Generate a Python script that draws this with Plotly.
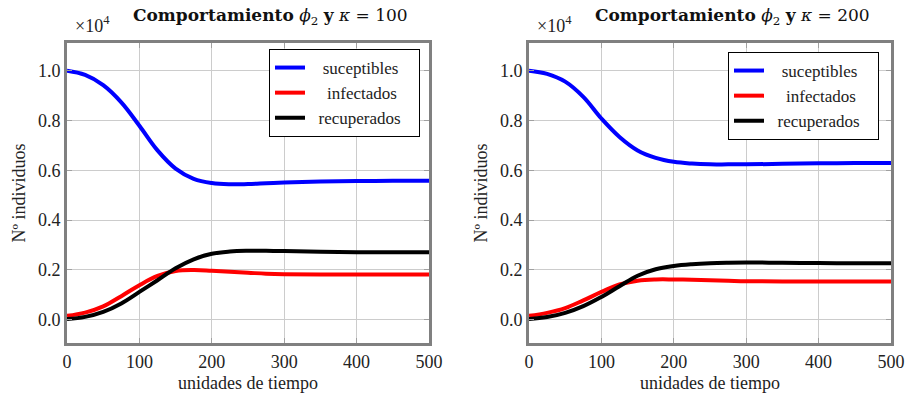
import plotly.graph_objects as go

# time points
t = [0, 25, 50, 75, 100, 125, 150, 175, 200, 225, 250, 275, 300, 350, 400, 450, 500]

# kappa = 100 (values in units of 10^4)
s_100 = [1.0, 0.983, 0.942, 0.873, 0.779, 0.68, 0.607, 0.566, 0.549, 0.544, 0.545, 0.548, 0.551, 0.555, 0.557, 0.558, 0.558]
i_100 = [0.016, 0.029, 0.054, 0.095, 0.139, 0.176, 0.196, 0.2, 0.197, 0.193, 0.189, 0.185, 0.183, 0.182, 0.182, 0.182, 0.182]
r_100 = [0.003, 0.012, 0.032, 0.066, 0.112, 0.159, 0.207, 0.243, 0.265, 0.274, 0.277, 0.277, 0.276, 0.273, 0.271, 0.271, 0.271]

# kappa = 200
s_200 = [1.0, 0.987, 0.956, 0.895, 0.808, 0.734, 0.68, 0.65, 0.634, 0.627, 0.624, 0.624, 0.624, 0.626, 0.628, 0.629, 0.629]
i_200 = [0.016, 0.028, 0.047, 0.078, 0.112, 0.142, 0.157, 0.162, 0.162, 0.161, 0.159, 0.157, 0.155, 0.154, 0.154, 0.154, 0.154]
r_200 = [0.003, 0.011, 0.028, 0.055, 0.092, 0.135, 0.177, 0.203, 0.216, 0.223, 0.227, 0.229, 0.23, 0.229, 0.228, 0.227, 0.227]

names = ["suceptibles", "infectados", "recuperados"]
colors = ["#0000ff", "#ff0000", "#000000"]
titles = ["Comportamiento", "Comportamiento"]
kappas = ["100", "200"]
x_ticks = [0, 100, 200, 300, 400, 500]
y_ticks = [0.0, 0.2, 0.4, 0.6, 0.8, 1.0]

FONT = "Liberation Serif"
TFONT = "DejaVu Serif"
FS = 18
W, H = 906, 393

# padding so the legend text sits centred in a wider box (as in the reference)
NB = "\u00a0"
pads = {"suceptibles": 3, "infectados": 4, "recuperados": 2}

fig = go.Figure()
panels = [(s_100, i_100, r_100), (s_200, i_200, r_200)]
for p, series in enumerate(panels):
    xa = "x" if p == 0 else "x2"
    ya = "y" if p == 0 else "y2"
    lg = "legend" if p == 0 else "legend2"
    for name, col, vals in zip(names, colors, series):
        label = NB * pads[name] + name + NB * pads[name]
        fig.add_trace(go.Scatter(
            x=t, y=vals, mode="lines", name=label,
            line=dict(color=col, width=4, shape="spline", smoothing=1.1),
            xaxis=xa, yaxis=ya, legend=lg, showlegend=True,
        ))

# pixel layout
boxes = [(67, 429), (529, 891)]
top, bottom = 43, 343

def px_x(v):
    return v / W

def px_y(v):
    return 1 - v / H

axis_common = dict(
    showline=True, linecolor="#808080", linewidth=3, mirror="ticks",
    ticks="inside", ticklen=5, tickcolor="#a0a0a0",
    showgrid=True, gridcolor="#cccccc", gridwidth=1,
    zeroline=False, automargin=False,
    tickfont=dict(family=FONT, size=FS, color="#222222"),
)

layout = dict(
    width=W, height=H,
    margin=dict(l=0, r=0, t=0, b=0),
    paper_bgcolor="white", plot_bgcolor="white",
    font=dict(family=FONT, size=FS, color="#222222"),
    annotations=[],
)

for p in range(2):
    sfx = "" if p == 0 else "2"
    x0, x1 = boxes[p]
    layout["xaxis" + sfx] = dict(
        axis_common,
        domain=[px_x(x0), px_x(x1)], range=[0, 500],
        tickvals=x_ticks, ticktext=[str(v) for v in x_ticks],
        anchor="y" + sfx,
        title=dict(text="unidades de tiempo", font=dict(family=FONT, size=FS, color="#222222"), standoff=6),
    )
    layout["yaxis" + sfx] = dict(
        axis_common,
        domain=[px_y(bottom), px_y(top)], range=[-0.093, 1.111],
        tickvals=y_ticks, ticktext=[f"{v:.1f}" for v in y_ticks],
        anchor="x" + sfx,
        title=dict(text="Nº individuos", font=dict(family=FONT, size=FS, color="#222222"), standoff=8),
    )
    cx = (x0 + x1) / 2 + 22
    layout["annotations"].append(dict(
        xref="paper", yref="paper", x=px_x(cx), y=px_y(16),
        text=f"<b>{titles[p]}</b> <i>ϕ</i><sub>2</sub> <b>y</b> <i>κ</i> = {kappas[p]}",
        showarrow=False, xanchor="center", yanchor="middle",
        font=dict(family=TFONT, size=17, color="#111111"),
    ))
    layout["annotations"].append(dict(
        xref="paper", yref="paper", x=px_x(x0 + 6), y=px_y(25),
        text="×10<sup>4</sup>",
        showarrow=False, xanchor="left", yanchor="middle",
        font=dict(family=FONT, size=FS, color="#222222"),
    ))

legend_common = dict(
    bgcolor="white", bordercolor="#000000", borderwidth=1,
    font=dict(family=FONT, size=17, color="#222222"),
    xanchor="left", yanchor="top", itemwidth=30, tracegroupgap=0,
)
layout["legend"] = dict(legend_common, x=px_x(269), y=px_y(49))
layout["legend2"] = dict(legend_common, x=px_x(728), y=px_y(52))

fig.update_layout(**layout)
fig.write_html(
    "out.html",
    config={"displayModeBar": False},
    post_script="document.body.style.margin='0';document.body.style.overflow='hidden';",
)
